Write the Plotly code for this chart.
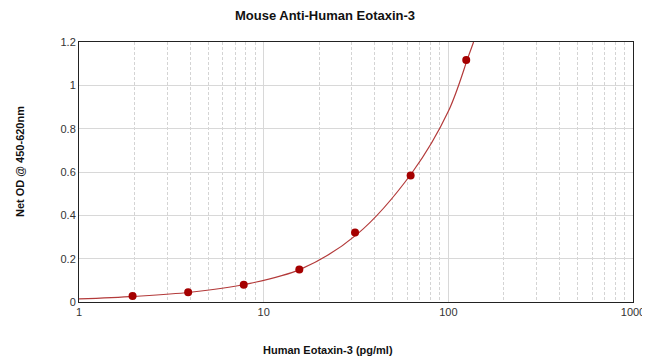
import plotly.graph_objects as go

# Standard points (concentration pg/ml, net OD)
conc = [1.95, 3.9, 7.8, 15.6, 31.25, 62.5, 125]
od = [0.028, 0.045, 0.080, 0.150, 0.321, 0.584, 1.117]

# Fitted curve
curve_x = [1, 2, 4, 8, 16, 32, 64, 100, 128, 137]
curve_y = [0.014, 0.026, 0.045, 0.082, 0.153, 0.312, 0.600, 0.880, 1.13, 1.2]

x_ticks = [1, 10, 100, 1000]
x_minor = [2, 3, 4, 5, 6, 7, 8, 9, 20, 30, 40, 50, 60, 70, 80, 90,
           200, 300, 400, 500, 600, 700, 800, 900]
y_ticks = [0, 0.2, 0.4, 0.6, 0.8, 1, 1.2]

# the page body adds an 8px offset, so the figure is sized to compensate
OFF = 8

fig = go.Figure()
fig.add_trace(go.Scatter(x=curve_x, y=curve_y, mode="lines",
                         line=dict(color="#b33a3a", width=1.2, shape="spline"),
                         hoverinfo="skip", showlegend=False))
fig.add_trace(go.Scatter(x=conc, y=od, mode="markers",
                         marker=dict(color="#a50000", size=8),
                         showlegend=False))

fig.update_layout(
    width=650 - OFF, height=362 - OFF,
    margin=dict(l=79 - OFF, r=17, t=42 - OFF, b=60, autoexpand=False),
    paper_bgcolor="white", plot_bgcolor="white",
    font=dict(family="Liberation Sans, Arial, sans-serif", size=11, color="#333333"),
    title=dict(text="<b>Mouse Anti-Human Eotaxin-3</b>", x=(325 - OFF) / (650 - OFF),
               xanchor="center", y=1 - (15 - OFF) / (362 - OFF), yanchor="middle",
               font=dict(size=13, color="#111111")),
    annotations=[
        dict(text="<b>Human Eotaxin-3 (pg/ml)</b>", xref="paper", yref="paper",
             x=(328 - 79) / 554, y=-(350 - 302) / 260, xanchor="center", yanchor="middle",
             showarrow=False, font=dict(size=11, color="#111111")),
        dict(text="<b>Net OD @ 450-620nm</b>", xref="paper", yref="paper",
             x=-(79 - 20) / 554, y=(302 - 162) / 260, xanchor="center", yanchor="middle",
             textangle=-90, showarrow=False, font=dict(size=11, color="#111111")),
    ],
)
fig.update_xaxes(
    type="log", range=[0, 3], automargin=False,
    tickmode="array", tickvals=x_ticks, ticktext=[str(v) for v in x_ticks],
    showline=True, mirror=True, linecolor="#222222", linewidth=1,
    showgrid=True, gridcolor="#d8d8d8", gridwidth=1,
    minor=dict(tickmode="array", tickvals=x_minor, showgrid=True,
               gridcolor="#d4d4d4", griddash="3px,2px", gridwidth=1, ticks=""),
    ticks="", zeroline=False,
)
fig.update_yaxes(
    range=[0, 1.2], tickmode="array", tickvals=y_ticks, automargin=False,
    ticktext=["0", "0.2", "0.4", "0.6", "0.8", "1", "1.2"],
    showline=True, mirror=True, linecolor="#222222", linewidth=1,
    showgrid=True, gridcolor="#d8d8d8", gridwidth=1, zeroline=False,
    ticks="",
)

fig.write_html("out.html")
